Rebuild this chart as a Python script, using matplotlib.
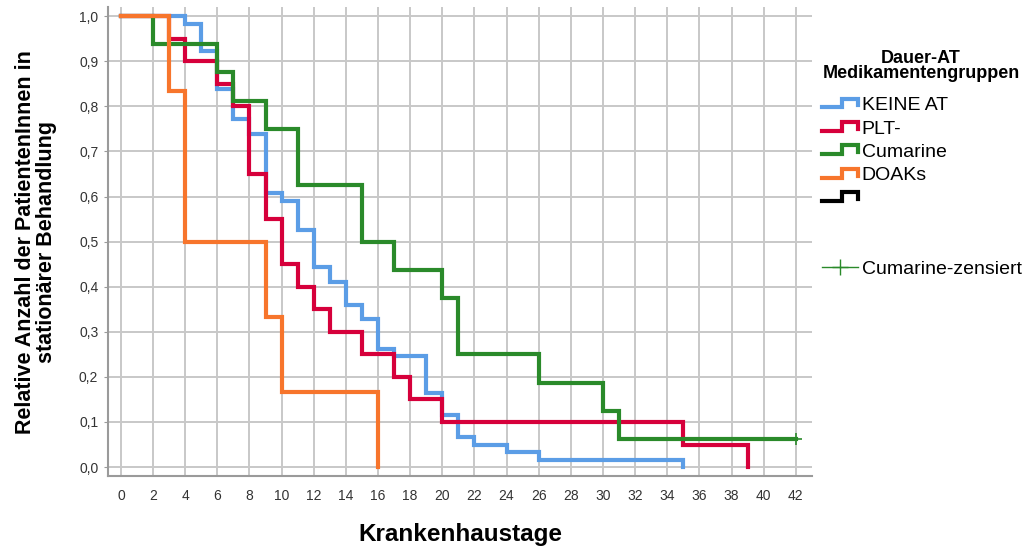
import matplotlib
matplotlib.use('Agg')
import numpy as np
import matplotlib.pyplot as plt
from matplotlib.lines import Line2D
from matplotlib.legend_handler import HandlerBase

plt.rcParams['font.family'] = ['Liberation Sans', 'DejaVu Sans']

# Kaplan-Meier steps (time in days, survival fraction)
keine_t = [0, 4, 5, 6, 7, 8, 9, 10, 11, 12, 13, 14, 15, 16, 17, 19, 20, 21, 22, 24, 26, 35]
keine_s = [1.0, 0.983, 0.922, 0.839, 0.772, 0.739, 0.607, 0.590, 0.525, 0.443, 0.410,
           0.360, 0.328, 0.262, 0.246, 0.164, 0.115, 0.066, 0.049, 0.033, 0.016, 0.0]

plt_t = [0, 3, 4, 6, 7, 8, 9, 10, 11, 12, 13, 15, 17, 18, 20, 35, 39]
plt_s = [1.0, 0.95, 0.90, 0.85, 0.80, 0.65, 0.55, 0.45, 0.40, 0.35, 0.30, 0.25,
         0.20, 0.15, 0.10, 0.05, 0.0]

cum_t = [0, 2, 6, 7, 9, 11, 15, 17, 20, 21, 26, 30, 31]
cum_s = [1.0, 0.9375, 0.875, 0.8125, 0.75, 0.625, 0.5, 0.4375, 0.375, 0.25,
         0.1875, 0.125, 0.0625]
cum_end = 42  # last patient censored

doak_t = [0, 3, 4, 9, 10, 16]
doak_s = [1.0, 0.8333, 0.5, 0.3333, 0.1667, 0.0]

groups = ['KEINE AT', 'PLT-', 'Cumarine', 'DOAKs']
colors = ['#5b9de6', '#d6003b', '#2a8a2a', '#f7752c']

x_ticks = list(range(0, 43, 2))
y_ticks = [round(v, 1) for v in np.arange(0, 1.01, 0.1)]


class StepHandler(HandlerBase):
    def create_artists(self, legend, orig_handle, xdescent, ydescent,
                       width, height, fontsize, trans):
        xs = np.array([0, 0.55, 0.55, 1.0, 1.0]) * width - xdescent
        ys = np.array([0.2, 0.2, 0.85, 0.85, 0.35]) * height - ydescent
        ln = Line2D(xs, ys, color=orig_handle.get_color(),
                    lw=orig_handle.get_linewidth(), solid_joinstyle='miter')
        ln.set_transform(trans)
        return [ln]


fig = plt.figure(figsize=(10.23, 5.46), dpi=100)
ax = fig.add_axes([0.1056, 0.128, 0.688, 0.859])

series = [(keine_t, keine_s, None), (plt_t, plt_s, None),
          (cum_t, cum_s, cum_end), (doak_t, doak_s, None)]
lines = []
for (t, s, end), c in zip(series, colors):
    xs = list(t)
    ys = list(s)
    if end is not None:
        xs.append(end)
        ys.append(s[-1])
    ln, = ax.step(xs, ys, where='post', color=c, lw=3, solid_joinstyle='miter')
    lines.append(ln)

# censored mark
ax.plot([cum_end], [cum_s[-1]], marker='+', color=colors[2], ms=9, mew=1.2, ls='none')

ax.set_xlim(-0.8, 43)
ax.set_ylim(-0.02, 1.02)
ax.set_xticks(x_ticks)
ax.set_xticklabels([str(v) for v in x_ticks])
ax.set_yticks(y_ticks)
ax.set_yticklabels([f'{v:.1f}'.replace('.', ',') for v in y_ticks])
ax.grid(True, color='#c8c8c8', lw=1.4)
ax.set_axisbelow(True)
for side in ['top', 'right']:
    ax.spines[side].set_visible(False)
for side in ['left', 'bottom']:
    ax.spines[side].set_color('#9a9a9a')
    ax.spines[side].set_linewidth(1.5)
ax.tick_params(axis='x', length=0, pad=9, labelsize=10, labelcolor='#333333')
ax.tick_params(axis='y', length=3, color='#9a9a9a', pad=4, labelsize=10, labelcolor='#333333')

ax.set_xlabel('Krankenhaustage', fontsize=17.5, fontweight='bold', labelpad=15)
ax.set_ylabel('Relative Anzahl der PatientenInnen in\nstationärer Behandlung',
              fontsize=15.5, fontweight='bold', labelpad=16, linespacing=1.0)

# legend
black = Line2D([], [], color='black', lw=3)
blank = Line2D([], [], color='none')
cens = Line2D([], [], color=colors[2], lw=1, marker='+', ms=12, mew=1)
handles = lines + [black, blank, blank, cens]
labels = groups + ['', '', '', 'Cumarine-zensiert']
hmap = {h: StepHandler() for h in lines + [black]}
fig.legend(handles, labels, handler_map=hmap, loc='upper left',
           bbox_to_anchor=(822 / 1023, 1 - 96.5 / 546), frameon=False,
           fontsize=14, handlelength=1.85, handletextpad=0.2, labelspacing=0.3,
           borderpad=0, borderaxespad=0, numpoints=1)
fig.text(921 / 1023, 1 - 66 / 546, 'Dauer-AT\nMedikamentengruppen', ha='center',
         va='center', fontsize=13, fontweight='bold', linespacing=0.9)

fig.savefig('out.png', dpi=100)
